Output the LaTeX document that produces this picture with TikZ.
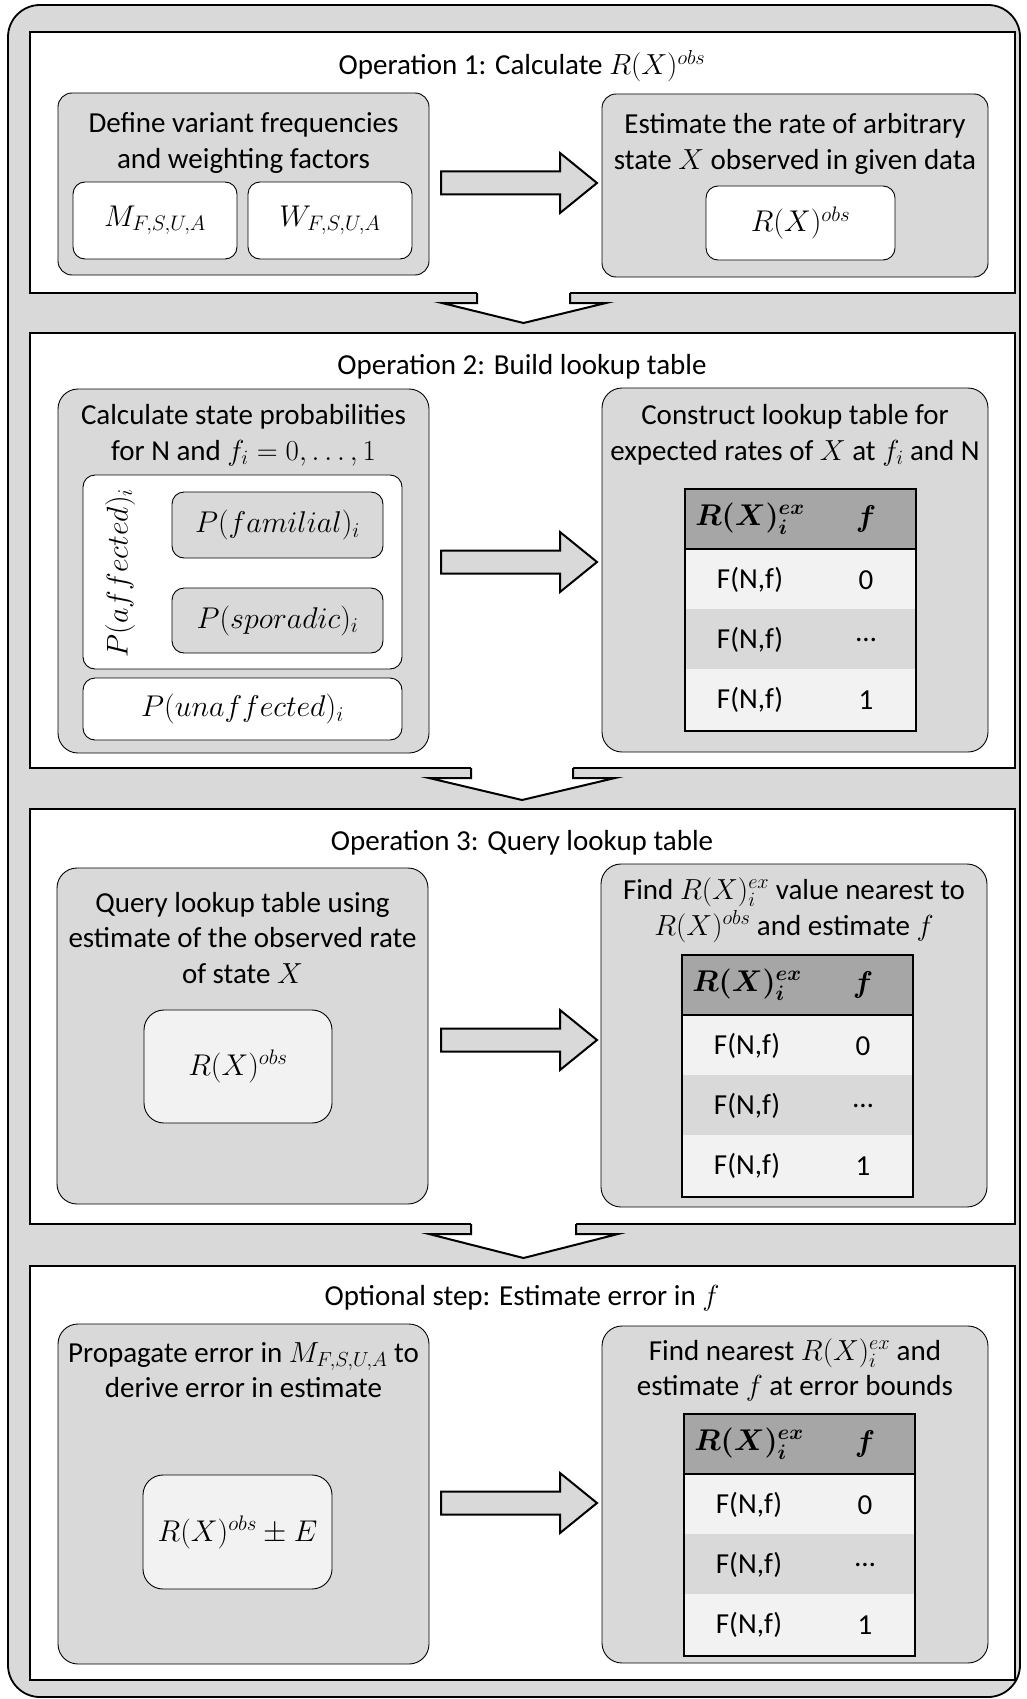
\documentclass[tikz,border=0pt]{standalone}
\usepackage{fix-cm}
\usepackage{amsmath,amssymb}
\usepackage{fontspec}
\setmainfont{Carlito}
\usetikzlibrary{positioning}

\definecolor{panelgray}{HTML}{D9D9D9}
\definecolor{headgray}{HTML}{A6A6A6}
\definecolor{lightrow}{HTML}{F2F2F2}

\tikzset{
  txt/.style={font=\fontsize{29}{35.5}\selectfont, align=center, inner sep=0pt},
  mathtxt/.style={font=\fontsize{30}{36}\selectfont, inner sep=0pt},
  outerbox/.style={draw, line width=1.8pt, fill=panelgray, rounded corners=32pt},
  opbox/.style={draw, line width=2.2pt, fill=white},
  stepbox/.style={draw, line width=0.9pt, fill=panelgray, rounded corners=20pt},
  valbox/.style={draw, line width=0.9pt, fill=white, rounded corners=12pt},
  fatarrow/.style={draw, line width=2pt, fill=panelgray, line join=miter},
  downarrow/.style={draw, line width=2pt, line join=miter},
  tabframe/.style={draw, line width=2pt, anchor=north west, minimum width=231pt, minimum height=242pt}
}

% lookup table: name, left x, top y
\newcommand{\lookup}[3]{%
  \fill[headgray] (#2,#3) rectangle ++(231,61);
  \fill[lightrow] (#2,#3+61) rectangle ++(231,60);
  \fill[panelgray] (#2,#3+121) rectangle ++(231,60);
  \fill[lightrow] (#2,#3+181) rectangle ++(231,61);
  \draw[line width=2pt] (#2,#3+61) -- ++(231,0);
  \node[tabframe] (#1) at (#2,#3) {};
  \node[mathtxt] (#1h1) at (#2+66,#3+31) {$\boldsymbol{R(X)_i^{ex}}$};
  \node[mathtxt] (#1h2) at (#2+182,#3+31) {$\boldsymbol{f}$};
  \node[txt] (#1a1) at (#2+66,#3+92) {F(N,f)};
  \node[txt] (#1a2) at (#2+182,#3+92) {0};
  \node[txt] (#1b1) at (#2+66,#3+152) {F(N,f)};
  \node[txt] (#1b2) at (#2+182,#3+152) {\dots};
  \node[txt] (#1c1) at (#2+66,#3+212) {F(N,f)};
  \node[txt] (#1c2) at (#2+182,#3+212) {1};
}

\begin{document}
\begin{tikzpicture}[x=1pt,y=-1pt]
\useasboundingbox (0,0) rectangle (1026,1699);
\node[outerbox, minimum width=1012pt, minimum height=1692pt] (frame) at (514,851) {};

% operation panels
\node[opbox, minimum width=985pt, minimum height=261pt] (op1) at (522.5,162.5) {};
\node[opbox, minimum width=985pt, minimum height=435pt] (op2) at (522.5,550.5) {};
\node[opbox, minimum width=985pt, minimum height=415pt] (op3) at (522.5,1016.5) {};
\node[opbox, minimum width=985pt, minimum height=414pt] (op4) at (522.5,1473) {};

% arrows between the panels
\foreach \y/\l/\r/\hl/\hr/\d in {293/477/570/442/606/20, 768/471/573/429/615/22, 1224/471/576/429/618/24}{
  \fill[white] (\l,\y-3) -- (\l,\y+10) -- (\hl,\y+10) -- ({(\l+\r)/2},\y+10+\d) -- (\hr,\y+10) -- (\r,\y+10) -- (\r,\y-3) -- cycle;
  \draw[downarrow] (\l,\y) -- (\l,\y+10) -- (\hl,\y+10) -- ({(\l+\r)/2},\y+10+\d) -- (\hr,\y+10) -- (\r,\y+10) -- (\r,\y);
}

% Operation 1
\node[txt] (t1) at (522,66) {Operation 1: Calculate $R(X)^{obs}$};
\node[stepbox, rounded corners=14pt, minimum width=371pt, minimum height=182pt] (def) at (243.5,184) {};
\node[stepbox, rounded corners=14pt, minimum width=386pt, minimum height=183pt] (est) at (795,185.5) {};
\node[txt] (deftxt) at (243.5,143) {Define variant frequencies\\and weighting factors};
\node[valbox, minimum width=164pt, minimum height=77pt] (mfsua) at (155,220.5) {};
\node[valbox, minimum width=164pt, minimum height=77pt] (wfsua) at (330,220.5) {};
\node[mathtxt] (mtxt) at (155,220.5) {$M_{F,S,U,A}$};
\node[mathtxt] (wtxt) at (330,220.5) {$W_{F,S,U,A}$};
\node[txt] (esttxt) at (795,144) {Estimate the rate of arbitrary\\state $X$ observed in given data};
\node[valbox, minimum width=189pt, minimum height=74pt] (robs1) at (800.5,223) {};
\node[mathtxt] (robs1txt) at (800.5,223) {$R(X)^{obs}$};

% Operation 2
\node[txt] (t2) at (522,367) {Operation 2: Build lookup table};
\node[stepbox, minimum width=371pt, minimum height=364pt] (calc) at (243.5,571) {};
\node[stepbox, minimum width=386pt, minimum height=364pt] (cons) at (795,570) {};
\node[txt] (calctxt) at (243.5,435) {Calculate state probabilities\\for N and $f_i = 0,\ldots,1$};
\node[valbox, minimum width=319pt, minimum height=194pt] (aff) at (242.5,572) {};
\node[mathtxt, rotate=90] (afftxt) at (120,573) {$P(affected)_i$};
\node[stepbox, rounded corners=12pt, minimum width=211pt, minimum height=66pt] (fam) at (277.5,525) {};
\node[stepbox, rounded corners=12pt, minimum width=211pt, minimum height=65pt] (spo) at (277.5,620.5) {};
\node[mathtxt] (famtxt) at (277.5,525) {$P(familial)_i$};
\node[mathtxt] (spotxt) at (277.5,620.5) {$P(sporadic)_i$};
\node[valbox, minimum width=319pt, minimum height=62pt] (unaff) at (242.5,709) {};
\node[mathtxt] (unafftxt) at (242.5,709) {$P(unaffected)_i$};
\node[txt] (constxt) at (795,435) {Construct lookup table for\\expected rates of $X$ at $f_i$ and N};
\lookup{tab2}{684}{488}

% Operation 3
\node[txt] (t3) at (522,843) {Operation 3: Query lookup table};
\node[stepbox, minimum width=371pt, minimum height=336pt] (query) at (242.5,1036) {};
\node[stepbox, minimum width=386pt, minimum height=343pt] (near) at (794,1035.5) {};
\node[txt] (querytxt) at (242.5,938) {Query lookup table using\\estimate of the observed rate\\of state $X$};
\node[valbox, rounded corners=20pt, fill=lightrow, minimum width=188pt, minimum height=113pt] (robs3) at (238,1066.5) {};
\node[mathtxt] (robs3txt) at (238,1066.5) {$R(X)^{obs}$};
\node[txt] (neartxt) at (794,910) {Find $R(X)_i^{ex}$ value nearest to\\$R(X)^{obs}$ and estimate $f$};
\lookup{tab3}{681}{954}

% Optional step
\node[txt] (t4) at (522,1298) {Optional step: Estimate error in $f$};
\node[stepbox, minimum width=371pt, minimum height=340pt] (prop) at (243.5,1494) {};
\node[stepbox, minimum width=386pt, minimum height=337pt] (bound) at (795,1494.5) {};
\node[txt] (proptxt) at (243.5,1370) {Propagate error in $M_{F,S,U,A}$ to\\derive error in estimate};
\node[valbox, rounded corners=20pt, fill=lightrow, minimum width=189pt, minimum height=114pt] (robs4) at (237.5,1532) {};
\node[mathtxt] (robs4txt) at (237.5,1532) {$R(X)^{obs}\pm E$};
\node[txt] (boundtxt) at (795,1370) {Find nearest $R(X)_i^{ex}$ and\\estimate $f$ at error bounds};
\lookup{tab4}{683}{1413}

% arrows inside the panels
\foreach \y in {183,562,1040,1503}{
  \draw[fatarrow] (441,\y-11.5) -- (560,\y-11.5) -- (560,\y-30) -- (597,\y) -- (560,\y+30) -- (560,\y+11.5) -- (441,\y+11.5) -- cycle;
}
\end{tikzpicture}
\end{document}
